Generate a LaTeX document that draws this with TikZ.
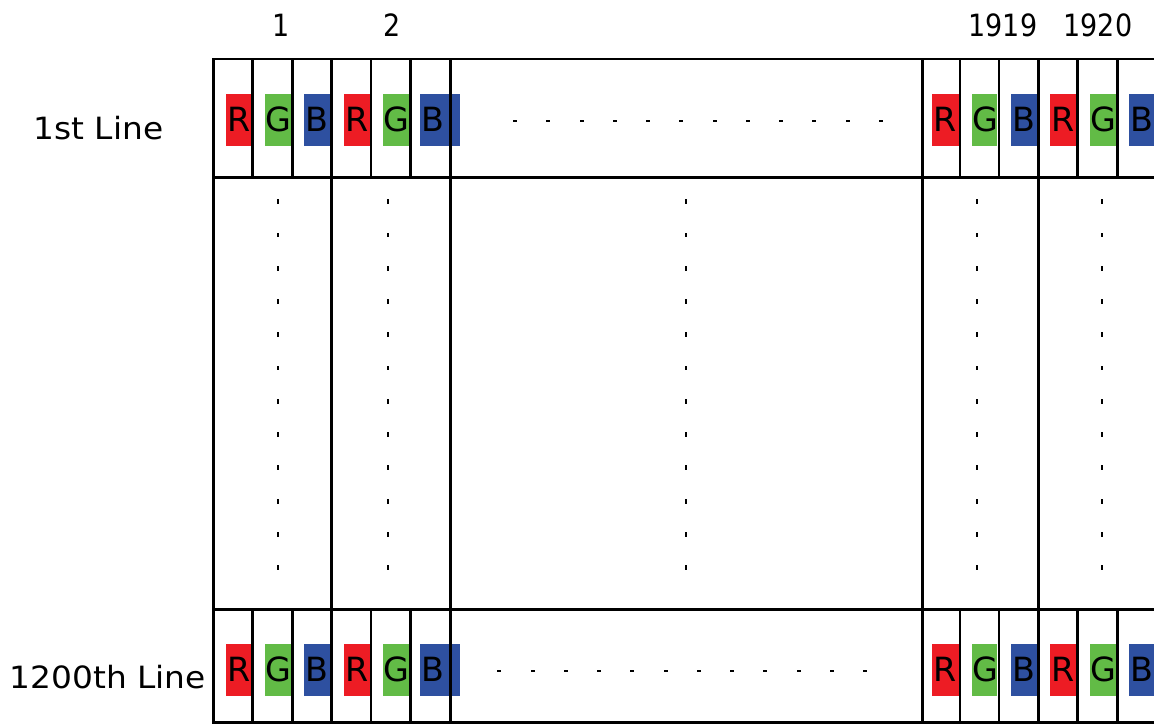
\documentclass[tikz,border=0pt]{standalone}
\usepackage{fontspec}
\setmainfont{DejaVu Sans}
\newfontfamily\labfont[FakeStretch=1.07]{DejaVu Sans}
\newfontfamily\numfont[FakeStretch=0.88]{DejaVu Sans}
\definecolor{pxR}{RGB}{237,28,36}
\definecolor{pxG}{RGB}{98,187,70}
\definecolor{pxB}{RGB}{46,80,160}
\begin{document}
\begin{tikzpicture}[x=0.75pt,y=-0.75pt,
  gridline/.style={line width=1.9pt, line cap=rect},
  dotmark/.style={fill=black},
  letter/.style={font=\fontsize{25}{25}\selectfont, inner sep=0, anchor=base},
  lab/.style={font=\labfont\fontsize{23}{23}\selectfont, inner sep=0},
  numlab/.style={font=\numfont\fontsize{23}{23}\selectfont, inner sep=0}]
\useasboundingbox (0,0) rectangle (1154,724);
% colored sub-pixels
\foreach \row/\y in {t/94, b/644}{
  \foreach \l/\r/\c [count=\i] in {226/251.7/R, 265/291/G, 304/330/B, 344/370/R, 383/409/G, 420/459.7/B,
                                  932/958.7/R, 972/997/G, 1011/1037/B, 1050/1076/R, 1090/1116/G, 1129/1170/B}{
    \fill[px\c] (\l,\y) rectangle (\r,\y+51.7);
    \node[letter] (\row\i) at (\l+13,\y+37.9) {\c};
  }
}
% grid
\foreach \yy in {59, 177.3, 609.3, 722.5}
  \draw[gridline] (213.5,\yy) -- (1170,\yy);
\foreach \xx in {213.5, 331.7, 450.7, 922.3, 1038.3, 1157}
  \draw[gridline] (\xx,59) -- (\xx,722.5);
\foreach \xx in {252.7, 292.3, 371, 410.7, 960, 999, 1077.7, 1117.7}{
  \draw[gridline] (\xx,59) -- (\xx,177.3);
  \draw[gridline] (\xx,609.3) -- (\xx,722.5);
}
% horizontal dots
\foreach \k in {0,...,11}{
  \fill[dotmark] (515+33.25*\k-2,120.7-1.1) rectangle ++(4,2.2);
  \fill[dotmark] (499.3+33.27*\k-2,670.7-1.1) rectangle ++(4,2.2);
}
% vertical dots
\foreach \xx in {277.7, 388.3, 686, 976.7, 1102.3}
  \foreach \k in {0,...,11}
    \fill[dotmark] (\xx-1.1,201.7+33.27*\k-2.4) rectangle ++(2.2,4.8);
% labels
\node[numlab, anchor=base] (c1) at (281,37) {1};
\node[numlab, anchor=base] (c2) at (392,37) {2};
\node[numlab, anchor=base] (c1919) at (1003,37) {1919};
\node[numlab, anchor=base] (c1920) at (1098,37) {1920};
\node[lab, anchor=base west] (l1) at (33.5,140) {1st Line};
\node[lab, anchor=base west] (l1200) at (9.5,688.3) {1200th Line};
\end{tikzpicture}
\end{document}
